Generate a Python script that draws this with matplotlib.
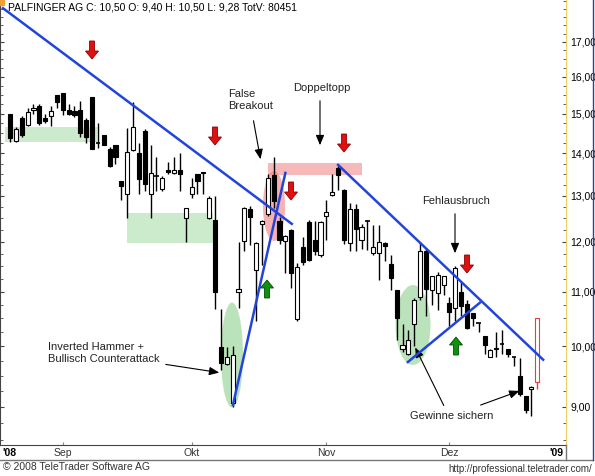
import matplotlib
matplotlib.use("Agg")
import matplotlib.pyplot as plt
import numpy as np
from matplotlib.patches import Ellipse, Rectangle, FancyArrow
from matplotlib.transforms import IdentityTransform
from matplotlib.ticker import FixedLocator, NullFormatter

plt.rcParams['font.family'] = ['Liberation Sans', 'DejaVu Sans']

opens = [15.0,14.3,14.9,14.72,15.1,15.2,14.9,14.95,15.5,15.55,15.1,15.08,15.1,14.85,15.45,14.25,14.45,14.1,14.2,
         13.35,13.05,14.08,14.0,14.55,13.05,13.45,13.15,13.6,13.53,13.6,12.5,13.05,13.5,13.55,12.5,12.47,9.99,9.7,9.06,11.0,
         12.02,12.7,11.43,12.37,12.6,13.47,12.45,12.02,12.24,10.48,11.89,12.43,12.04,11.72,12.55,13.03,13.65,13.13,11.98,12.7,
         12.04,12.45,11.76,11.76,11.98,11.55,11.03,9.96,9.87,10.39,10.9,11.8,11.03,10.98,11.12,10.79,10.7,11.0,10.77,10.6,
         10.42,10.18,9.82,9.95,10.04,9.96,9.82,9.5,9.17,9.28,9.40]
highs = [15.0,14.65,14.95,15.15,15.25,15.25,15.0,15.2,15.5,15.55,15.25,15.2,15.35,14.9,15.45,14.75,14.45,14.15,14.2,
         13.35,14.63,15.3,14.25,14.6,14.2,13.9,13.45,13.8,13.9,14.0,12.73,13.4,13.5,13.55,13.0,13.0,10.68,9.99,10.0,12.0,
         12.75,12.78,12.0,12.47,13.5,13.91,12.52,12.15,12.26,11.57,12.1,12.47,12.45,12.45,12.9,13.5,13.7,13.15,12.85,12.82,
         12.38,12.46,12.35,12.35,12.0,11.73,11.03,10.4,10.29,10.88,12.0,11.88,11.3,11.38,11.3,10.9,11.51,11.18,10.85,10.6,
         10.42,10.18,9.96,10.25,10.29,9.96,9.82,9.8,9.17,9.33,10.50]
lows = [14.28,14.28,14.4,14.68,15.0,14.7,14.75,14.68,15.15,14.97,14.97,14.92,14.4,14.25,14.1,14.13,14.2,13.68,13.75,
        12.9,12.5,14.05,13.05,13.1,12.5,13.1,13.1,13.5,13.5,13.1,12.0,12.95,13.05,13.05,12.48,10.68,9.6,9.68,9.0,10.7,
        11.8,11.93,10.45,11.53,12.55,12.72,11.95,11.37,11.07,10.45,11.53,11.6,11.73,11.68,12.04,13.0,13.13,11.95,11.8,11.8,
        11.85,11.83,11.72,11.23,11.6,11.03,10.11,9.9,9.85,10.0,10.85,10.55,10.75,10.65,10.93,10.37,10.45,10.55,10.3,10.37,
        10.25,9.87,9.82,9.82,9.87,9.82,9.67,9.17,8.9,8.85,9.28]
closes = [14.37,14.6,14.45,15.05,15.15,14.75,14.8,15.08,15.3,15.1,15.0,14.98,14.5,14.4,14.1,14.25,14.2,13.7,13.9,
          13.22,14.03,14.66,13.39,13.28,13.53,13.45,13.4,13.55,13.6,13.5,12.73,13.2,13.35,13.52,12.95,11.0,9.72,9.82,9.85,11.05,
          12.73,12.52,11.97,12.45,13.42,12.88,12.04,12.13,11.37,11.49,11.59,11.63,11.8,12.42,12.63,13.09,13.47,12.04,12.7,12.28,
          12.32,12.43,11.9,12.0,11.92,11.27,10.5,10.03,10.11,10.85,11.8,11.05,11.3,11.32,11.3,10.62,11.47,10.72,10.32,10.5,
          10.41,10.02,9.94,9.97,10.04,9.87,9.8,9.2,8.95,9.32,10.50]
month_pos = [9, 31, 54, 75]
month_labels = ['Sep', 'Okt', 'Nov', 'Dez']
yticks = [9, 10, 11, 12, 13, 14, 15, 16, 17]

W, H = 595, 476
fig = plt.figure(figsize=(W/100, H/100), dpi=100)
ax = fig.add_axes([0, 31/H, 566/W, 445/H])
ax.set_yscale('log')
ax.set_xlim(-1.71, 94.9)
ax.set_ylim(8.42, 18.29)

n = len(opens)
for i in range(n):
    o, h, l, c = opens[i], highs[i], lows[i], closes[i]
    last = (i == n - 1)
    col = '#e04040' if last else 'black'
    ax.vlines(i, l, h, color=col, lw=1, zorder=3)
    bot, top = min(o, c), max(o, c)
    if top - bot < 0.02:
        ax.hlines(o, i-0.4, i+0.4, color=col, lw=1.2, zorder=4)
    else:
        fc = 'white' if c > o else 'black'
        ax.add_patch(Rectangle((i-0.35, bot), 0.7, top-bot, facecolor=fc, edgecolor=col, lw=0.8, zorder=4))

# shaded zones
ax.add_patch(Rectangle((-0.85, 14.28), 15.65, 0.38, color='#8fd18f', alpha=0.45, lw=0, zorder=1))
ax.add_patch(Rectangle((20, 11.98), 14.6, 0.64, color='#8fd18f', alpha=0.45, lw=0, zorder=1))
ax.add_patch(Rectangle((44, 13.48), 16.1, 0.29, color='#f08080', alpha=0.55, lw=0, zorder=1))

def fpx(x, y):
    return (x, H - y)

for (cx, cy, w, h, c) in [(232, 355, 22, 105, '#8fd18f'), (413, 325, 35, 80, '#8fd18f'), (274, 206, 22, 70, '#f08080')]:
    e = Ellipse(fpx(cx, cy), w, h, transform=IdentityTransform(), facecolor=c, alpha=0.6, lw=0, zorder=2)
    ax.add_artist(e)

# trend lines
lw = 1.8
ax.plot([-1.2, 48.1], [18.03, 12.38], color='#2244dd', lw=lw, zorder=5)
ax.plot([56, 91], [13.72, 9.77], color='#2244dd', lw=lw, zorder=5)
ax.plot([38.05, 47.0], [9.03, 13.53], color='#2244dd', lw=lw, zorder=5)
ax.plot([67.9, 80.2], [9.73, 10.79], color='#2244dd', lw=lw, zorder=5)

# signal arrows
def sig(x, y, down, color, ec):
    if down:
        sx, sy = fpx(x, y - 9)
        dy = -18
    else:
        sx, sy = fpx(x, y + 9)
        dy = 18
    a = FancyArrow(sx, sy, 0, dy, width=5, head_width=13, head_length=8, length_includes_head=True,
                   transform=IdentityTransform(), facecolor=color, edgecolor=ec, lw=0.6, zorder=6)
    ax.add_artist(a)
for (x, y) in [(92, 50), (215, 136), (291, 191), (344, 143), (467, 264)]:
    sig(x, y, True, '#e01010', '#900000')
for (x, y) in [(267, 289), (456, 346)]:
    sig(x, y, False, '#109010', '#005000')

fs = 8
def note(text, tx, ty, ha='left'):
    fig.text(tx/W, 1-ty/H, text, fontsize=fs, ha=ha, va='top', color='#222222', linespacing=1.3)
def arr(x1, y1, x2, y2):
    ax.annotate('', xy=fpx(x2, y2), xycoords='figure pixels', xytext=fpx(x1, y1), textcoords='figure pixels',
                arrowprops=dict(arrowstyle='-|>,head_width=0.25,head_length=0.6', color='black', lw=0.8))

note('False\nBreakout', 228, 89)
arr(253, 118, 261, 162)
note('Doppeltopp', 293, 83)
arr(320, 98, 320, 148)
note('Fehlausbruch', 422, 196)
arr(455, 211, 455, 256)
note('Inverted Hammer +\nBullisch Counterattack', 48, 342)
arr(163, 364, 222, 373)
note('Gewinne sichern', 410, 411)
arr(445, 408, 414, 345)
arr(478, 406, 522, 390)

# axes styling
ax.set_xticks(month_pos)
ax.set_xticklabels([])
ax.tick_params(axis='x', direction='in', length=2, color='#888888')
ax.yaxis.set_major_locator(FixedLocator(yticks))
ax.yaxis.set_minor_locator(FixedLocator(np.arange(8.5, 18.3, 0.25)))
ax.yaxis.set_minor_formatter(NullFormatter())
ax.yaxis.tick_right()
ax.yaxis.set_ticks_position('both')
ax.set_yticklabels(['%d,00' % v for v in yticks])
ax.tick_params(axis='y', which='both', direction='in', length=3, labelsize=7.5, pad=3, color='#444444')
ax.tick_params(axis='y', which='minor', length=2)
ax.tick_params(axis='y', labelleft=False, labelright=True)
ax.spines['top'].set_visible(False)
ax.spines['right'].set_color('#e8d060')
ax.spines['right'].set_linestyle((0, (1, 1)))
ax.spines['left'].set_color('#444444')
ax.spines['bottom'].set_color('#444444')

for p, lab in zip(month_pos, month_labels):
    x = ax.transData.transform((p, 10))[0]
    fig.text(x/W, 1-453/H, lab, fontsize=7.5, ha='center', va='center', color='#333333')
fig.text(2/W, 1-453/H, "'08", fontsize=7.5, weight='bold', ha='left', va='center')
fig.text(563/W, 1-453/H, "'09", fontsize=7.5, weight='bold', ha='right', va='center')

# frame lines
fig.add_artist(plt.Line2D([0, 593/W], [1-460/H]*2, color='#777777', lw=1))
fig.add_artist(plt.Line2D([566/W]*2, [1-445/H, 1-460/H], color='#777777', lw=1))
fig.add_artist(plt.Line2D([593/W]*2, [1, 1-460/H], color='#3040a0', lw=1))

fig.text(8/W, 1-8/H, 'PALFINGER AG C: 10,50 O: 9,40 H: 10,50 L: 9,28 TotV: 80451', fontsize=7.5, va='center', ha='left')
fig.add_artist(Rectangle((0, 1-5/H), 4/W, 5/H, transform=fig.transFigure, color='#f0a030'))
fig.text(3/W, 1-467/H, '© 2008 TeleTrader Software AG', fontsize=7.5, va='center', ha='left', color='#333333')
fig.text(592/W, 1-469/H, 'http://professional.teletrader.com/', fontsize=7, va='center', ha='right', color='#333333')

fig.savefig('out.png', dpi=100)
